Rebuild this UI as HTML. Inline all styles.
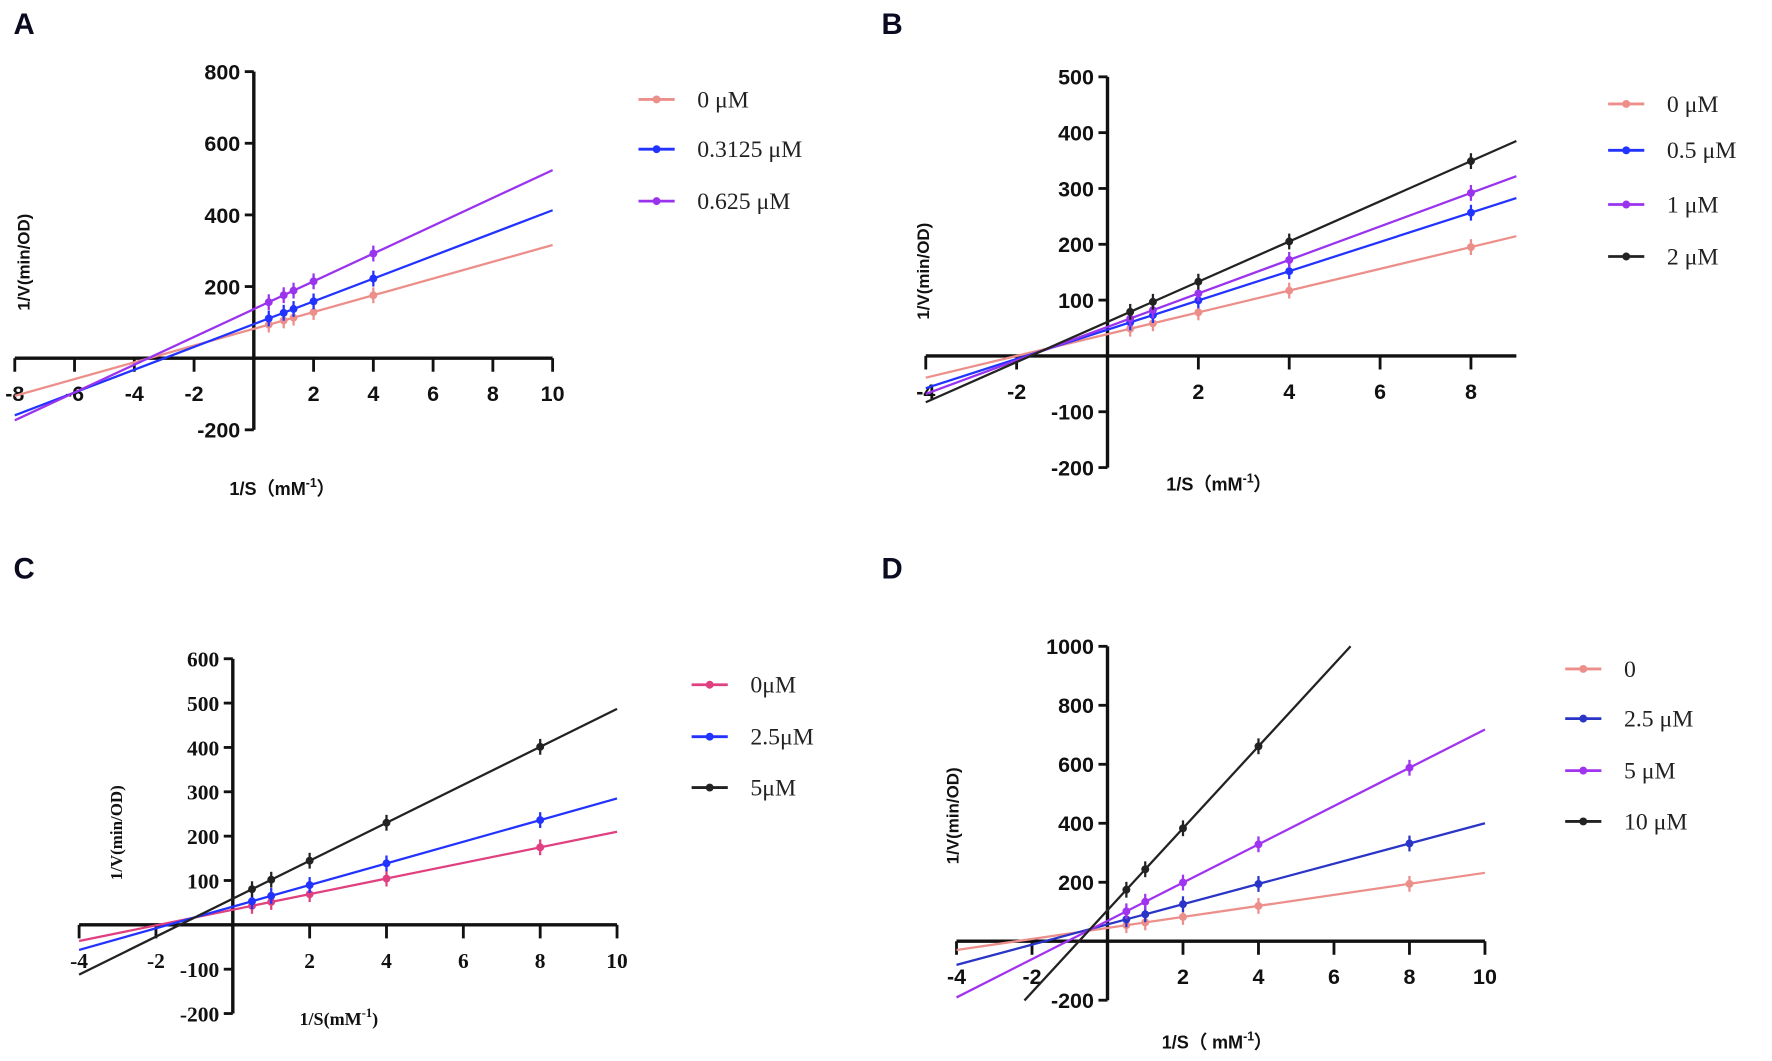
<!DOCTYPE html>
<html><head><meta charset="utf-8"><style>
html,body{margin:0;padding:0;background:#fff;width:1772px;height:1061px;overflow:hidden}
svg{display:block}
</style></head><body>
<svg id="s" width="1772" height="1061" viewBox="0 0 1568 939" preserveAspectRatio="none" xmlns="http://www.w3.org/2000/svg">
<g font-family="Liberation Sans, Arial, sans-serif" font-weight="bold" fill="#0a0a20" font-size="26">
<text x="12" y="30">A</text><text x="780" y="30">B</text>
<text x="12" y="512">C</text><text x="780" y="512">D</text>
</g>
</svg>
<script>
const S=document.getElementById('s');const NS='http://www.w3.org/2000/svg';
function el(t,a,txt){const e=document.createElementNS(NS,t);for(const k in a)e.setAttribute(k,a[k]);if(txt!==undefined)e.textContent=txt;S.appendChild(e);return e;}
function panel(p){
 const X=v=>p.x0+v*p.sx, Y=v=>p.y0-v*p.sy;
 const tf=p.serif?'Liberation Serif, serif':'Liberation Sans, Arial, sans-serif';
 el('line',{x1:X(p.xmin),y1:p.y0,x2:X(p.xmax),y2:p.y0,stroke:'#111','stroke-width':3});
 el('line',{x1:p.x0,y1:Y(p.ymax),x2:p.x0,y2:Y(p.ymin),stroke:'#111','stroke-width':3});
 p.xt.forEach(v=>{el('line',{x1:X(v),y1:p.y0,x2:X(v),y2:p.y0+12,stroke:'#111','stroke-width':2.5});
  el('text',{x:X(v),y:p.y0+38,'text-anchor':'middle','font-family':tf,'font-weight':'bold','font-size':19,fill:'#111'},String(v));});
 p.yt.forEach(v=>{el('line',{x1:p.x0-8,y1:Y(v),x2:p.x0,y2:Y(v),stroke:'#111','stroke-width':2.5});
  el('text',{x:p.x0-12,y:Y(v)+7,'text-anchor':'end','font-family':tf,'font-weight':'bold','font-size':19,fill:'#111'},String(v));});
 el('text',{x:0,y:0,transform:`translate(${p.ylx},${p.yly}) rotate(-90)`,'text-anchor':'middle','font-family':tf,'font-weight':'bold','font-size':15,fill:'#111'},'1/V(min/OD)');
 const xl=el('text',{x:p.xlx,y:p.xly,'font-family':tf,'font-weight':'bold','font-size':16,fill:'#111'},p.xlab[0]);
 const ts=document.createElementNS(NS,'tspan');ts.setAttribute('dy','-7');ts.setAttribute('font-size','11');ts.textContent='-1';xl.appendChild(ts);
 const t2=document.createElementNS(NS,'tspan');t2.setAttribute('dy','7');t2.textContent=p.xlab[1];xl.appendChild(t2);
 p.series.forEach((s,i)=>{
  const xa=s.x1!==undefined?s.x1:p.xmin, xb=s.x2!==undefined?s.x2:p.xmax;
  el('line',{x1:X(xa),y1:Y(s.c+s.m*xa),x2:X(xb),y2:Y(s.c+s.m*xb),stroke:s.col,'stroke-width':2});
  (s.px||p.px).forEach(v=>{const y=Y(s.c+s.m*v);
   el('line',{x1:X(v),y1:y-7,x2:X(v),y2:y+7,stroke:s.col,'stroke-width':2});
   el('circle',{cx:X(v),cy:y,r:3.5,fill:s.col});});
  const ly=p.ly[i];
  el('line',{x1:p.lx,y1:ly,x2:p.lx+32,y2:ly,stroke:s.col,'stroke-width':2.5});
  el('circle',{cx:p.lx+16,cy:ly,r:3.5,fill:s.col});
  el('text',{x:p.lx+52,y:ly+7,'font-family':'Liberation Serif, serif','font-size':21,fill:'#222'},s.name);
 });
}
panel({x0:224.6,y0:317,sx:26.44,sy:0.317,xmin:-8,xmax:10,ymin:-200,ymax:800,
 xt:[-8,-6,-4,-2,2,4,6,8,10],yt:[800,600,400,200,-200],ylx:26,yly:232,xlx:203,xly:438,xlab:['1/S（mM','）'],
 px:[0.5,1,1.33,2,4],lx:565,ly:[88,132,178],
 series:[{m:23.4,c:82,col:'#ec8f8b',name:'0 μM'},{m:31.8,c:95,col:'#2233ff',name:'0.3125 μM'},{m:38.8,c:137,col:'#9a33ee',name:'0.625 μM'}]});
panel({x0:980,y0:315,sx:40.2,sy:0.494,xmin:-4,xmax:9,ymin:-200,ymax:500,
 xt:[-4,-2,2,4,6,8],yt:[500,400,300,200,100,-100,-200],ylx:822,yly:240,xlx:1032,xly:434,xlab:['1/S（mM','）'],
 px:[0.5,1,2,4,8],lx:1423,ly:[92,133,181,227],
 series:[{m:19.5,c:39,col:'#ec8f8b',name:'0 μM'},{m:26.2,c:47,col:'#2233ff',name:'0.5 μM'},{m:30,c:52,col:'#9a33ee',name:'1 μM'},{m:36,c:61,col:'#222',name:'2 μM'}]});
panel({x0:206,y0:818.5,sx:34,sy:0.3925,xmin:-4,xmax:10,ymin:-200,ymax:600,serif:true,
 xt:[-4,-2,2,4,6,8,10],yt:[600,500,400,300,200,100,-100,-200],ylx:108,yly:737,xlx:265,xly:907,xlab:['1/S(mM',')'],
 px:[0.5,1,2,4,8],lx:612,ly:[606,652,697],
 series:[{m:17.6,c:34,col:'#e0407f',name:'0μM'},{m:24.4,c:41,col:'#2233ff',name:'2.5μM'},{m:42.8,c:59,col:'#222',name:'5μM'}]});
panel({x0:980,y0:833,sx:33.4,sy:0.261,xmin:-4,xmax:10,ymin:-200,ymax:1000,
 xt:[-4,-2,2,4,6,8,10],yt:[1000,800,600,400,200,-200],ylx:848,yly:722,xlx:1028,xly:928,xlab:['1/S（ mM','）'],serif:false,
 px:[0.5,1,2,4,8],lx:1385,ly:[592,636,682,727],
 series:[{m:18.7,c:45,col:'#ec8f8b',name:'0'},{m:34.3,c:57,col:'#2a35c8',name:'2.5 μM'},{m:64.9,c:69,col:'#a033f0',name:'5 μM'},{m:139,c:105,col:'#222',name:'10 μM',x1:-2.2,x2:6.44,px:[0.5,1,2,4]}]});
</script>
</body></html>
